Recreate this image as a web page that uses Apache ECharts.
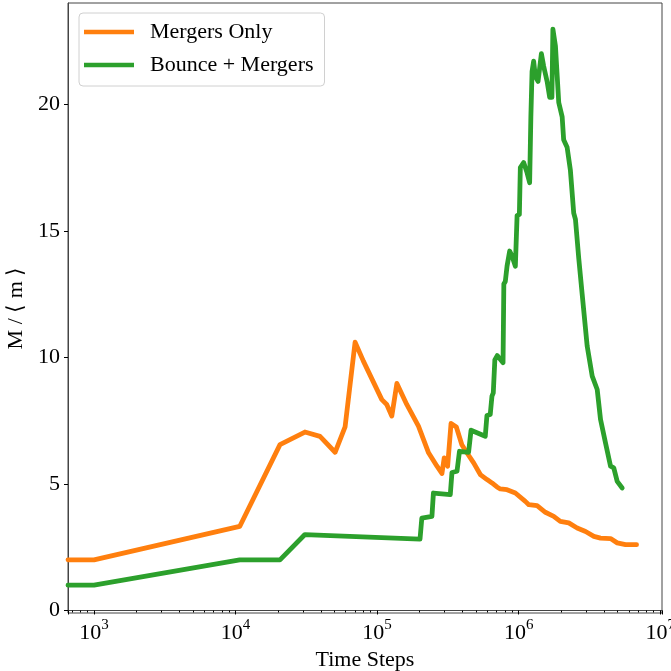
<!DOCTYPE html>
<html>
<head>
<meta charset="utf-8">
<script src="https://cdn.jsdelivr.net/npm/echarts@6/dist/echarts.min.js"></script>
<style>html,body{margin:0;padding:0;background:#fff;}#c{width:671px;height:671px;}</style>
</head>
<body>
<div id="c"></div>
<script>
// ---- data ----
const seriesNames = ['Mergers Only', 'Bounce + Mergers'];
const yTicks = [0, 5, 10, 15, 20];

const mergersT = [655, 1000, 1.07e4, 2.06e4, 3.09e4, 3.95e4, 5.05e4, 5.94e4, 6.99e4, 8.0e4,
  1.08e5, 1.17e5, 1.27e5, 1.38e5, 1.62e5, 1.96e5, 2.31e5, 2.65e5, 2.87e5, 2.98e5,
  3.15e5, 3.33e5, 3.63e5, 3.97e5, 4.31e5, 4.81e5, 5.36e5, 5.98e5, 6.48e5, 7.03e5,
  7.42e5, 8.28e5, 9.48e5, 1.115e6, 1.18e6, 1.35e6, 1.545e6, 1.77e6, 1.97e6, 2.26e6,
  2.59e6, 2.97e6, 3.40e6, 3.79e6, 4.46e6, 4.97e6, 5.69e6, 6.81e6];
const mergersM = [2.0, 2.0, 3.32, 6.55, 7.05, 6.88, 6.25, 7.25, 10.6, 9.85,
  8.33, 8.14, 7.68, 8.97, 8.14, 7.28, 6.23, 5.70, 5.41, 6.03,
  5.70, 7.39, 7.25, 6.55, 6.23, 5.83, 5.37, 5.17, 5.04, 4.88,
  4.80, 4.77, 4.64, 4.31, 4.18, 4.14, 3.88, 3.72, 3.52, 3.46,
  3.26, 3.12, 2.93, 2.86, 2.84, 2.67, 2.60, 2.60];

const bounceT = [655, 1000, 1.07e4, 2.06e4, 3.09e4, 2.01e5, 2.07e5, 2.44e5, 2.50e5, 3.29e5,
  3.38e5, 3.67e5, 3.82e5, 4.43e5, 4.61e5, 5.81e5, 5.97e5, 6.30e5, 6.48e5, 6.62e5,
  6.79e5, 7.06e5, 7.76e5, 7.86e5, 8.05e5, 8.28e5, 8.64e5, 8.98e5, 9.48e5, 9.75e5,
  1.012e6, 1.028e6, 1.085e6, 1.146e6, 1.196e6, 1.22e6, 1.244e6, 1.277e6, 1.312e6, 1.371e6,
  1.448e6, 1.503e6, 1.589e6, 1.657e6, 1.718e6, 1.746e6, 1.82e6, 1.92e6, 2.03e6, 2.08e6,
  2.20e6, 2.32e6, 2.45e6, 2.52e6, 2.66e6, 2.81e6, 3.05e6, 3.31e6, 3.59e6, 3.79e6,
  4.11e6, 4.46e6, 4.70e6, 4.97e6, 5.39e6];
const bounceM = [1.0, 1.0, 2.0, 2.0, 3.0, 2.82, 3.65, 3.72, 4.64, 4.58,
  5.45, 5.50, 6.29, 6.25, 7.12, 6.88, 7.70, 7.74, 8.47, 8.6,
  9.9, 10.07, 9.79, 12.9, 13.0, 13.6, 14.2, 14.0, 13.6, 15.6,
  15.65, 17.5, 17.7, 17.3, 16.9, 19.5, 21.3, 21.7, 21.1, 20.9,
  22.0, 21.5, 20.9, 20.27, 20.27, 22.97, 22.3, 20.07, 19.5, 18.6,
  18.3, 17.4, 15.7, 15.45, 13.9, 12.5, 10.44, 9.26, 8.73, 7.54,
  6.62, 5.70, 5.63, 5.10, 4.84];

// ---- chart ----
const pairs = (xs, ys) => xs.map((x, i) => [x, ys[i]]);
const FONT = 'Liberation Serif';
const chart = echarts.init(document.getElementById('c'), null, {renderer: 'canvas'});
chart.setOption({
  animation: false,
  backgroundColor: '#fff',
  textStyle: {fontFamily: FONT},
  grid: {left: 68, right: 9, top: 3, bottom: 58, show: true, borderColor: '#444', borderWidth: 1,
         containLabel: false, outerBoundsMode: 'none'},
  legend: {
    left: 79, top: 13, orient: 'vertical',
    data: seriesNames,
    icon: 'rect', itemWidth: 50, itemHeight: 4.5, itemGap: 11,
    padding: [8, 11, 10, 5],
    borderColor: '#d0d0d0', borderWidth: 1, borderRadius: 4,
    backgroundColor: 'rgba(255,255,255,0.8)',
    textStyle: {fontFamily: FONT, fontSize: 22, color: '#000', padding: [0, 0, 0, 11]}
  },
  xAxis: {
    type: 'log', logBase: 10, min: 655, max: 1.03e7,
    name: 'Time Steps', nameLocation: 'middle', nameGap: 34,
    nameTextStyle: {fontFamily: FONT, fontSize: 22, color: '#000'},
    axisLine: {show: true, lineStyle: {color: '#444', width: 1}},
    axisTick: {show: true, length: 4, lineStyle: {color: '#000'}},
    minorTick: {show: true, splitNumber: 9, length: 2, lineStyle: {color: '#000'}},
    splitLine: {show: false},
    axisLabel: {
      margin: 5, showMinLabel: true, showMaxLabel: true,
      formatter: function (v) {
        const e = Math.log10(v);
        if (Math.abs(e - Math.round(e)) > 1e-6) return '';
        return '{b|10}{s|' + Math.round(e) + '}';
      },
      rich: {
        b: {fontFamily: FONT, fontSize: 22, color: '#000', lineHeight: 26, verticalAlign: 'bottom'},
        s: {fontFamily: FONT, fontSize: 15, color: '#000', lineHeight: 26, verticalAlign: 'top'}
      }
    }
  },
  yAxis: {
    type: 'value', min: -0.1, max: 24.0,
    name: 'M / \u27E8 m \u27E9', nameLocation: 'middle', nameGap: 40, nameRotate: 90,
    nameTextStyle: {fontFamily: FONT, fontSize: 22, color: '#000'},
    axisLine: {show: true, lineStyle: {color: '#444', width: 1}},
    axisTick: {show: true, length: 4, customValues: yTicks, lineStyle: {color: '#000'}},
    splitLine: {show: false},
    axisLabel: {customValues: yTicks, margin: 8, fontFamily: FONT, fontSize: 22, color: '#000'}
  },
  series: [
    {name: seriesNames[0], type: 'line', data: pairs(mergersT, mergersM), showSymbol: false,
     color: '#ff7f0e', lineStyle: {width: 4.8, color: '#ff7f0e', join: 'round', cap: 'round'}},
    {name: seriesNames[1], type: 'line', data: pairs(bounceT, bounceM), showSymbol: false,
     color: '#2ca02c', lineStyle: {width: 4.8, color: '#2ca02c', join: 'round', cap: 'round'}}
  ]
});
</script>
</body>
</html>
